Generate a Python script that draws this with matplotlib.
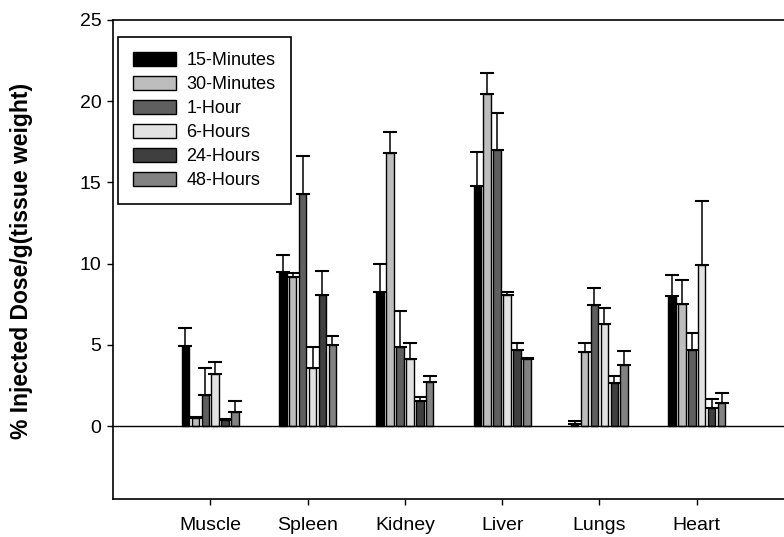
import numpy as np
import matplotlib
matplotlib.use("Agg")
import matplotlib.pyplot as plt

plt.rcParams['font.family'] = ['Liberation Sans', 'DejaVu Sans']

organs = ["Muscle", "Spleen", "Kidney", "Liver", "Lungs", "Heart"]
series = ["15-Minutes", "30-Minutes", "1-Hour", "6-Hours", "24-Hours", "48-Hours"]

# mean values (% ID/g)
min15 = [4.94, 9.50, 8.23, 14.78, 0.16, 8.02]
min30 = [0.51, 9.20, 16.83, 20.46, 4.58, 7.51]
hr1 = [1.95, 14.29, 4.85, 17.00, 7.45, 4.72]
hr6 = [3.20, 3.61, 4.15, 8.05, 6.32, 9.91]
hr24 = [0.37, 8.07, 1.56, 4.68, 2.67, 1.15]
hr48 = [0.90, 4.99, 2.71, 4.15, 3.76, 1.40]

# upper error bars
err15 = [1.12, 1.03, 1.75, 2.09, 0.17, 1.30]
err30 = [0.05, 0.20, 1.25, 1.26, 0.57, 1.48]
err1 = [1.65, 2.31, 2.25, 2.30, 1.05, 0.99]
err6 = [0.76, 1.24, 0.94, 0.20, 0.93, 3.96]
err24 = [0.05, 1.49, 0.24, 0.47, 0.43, 0.55]
err48 = [0.68, 0.55, 0.41, 0.05, 0.88, 0.65]

values = [min15, min30, hr1, hr6, hr24, hr48]
errors = [err15, err30, err1, err6, err24, err48]
colors = ["#000000", "#bdbdbd", "#5f5f5f", "#e2e2e2", "#3f3f3f", "#828282"]

fig = plt.figure(figsize=(7.84, 5.37), dpi=100)
ax = fig.add_axes([113/784, 1 - 498.5/537, (794 - 113)/784, (498.5 - 20)/537])

x = np.arange(len(organs))
slot = 0.102
width = 0.078

for i, (vals, errs) in enumerate(zip(values, errors)):
    pos = x + (i - 2.5) * slot
    ax.bar(pos, vals, width, color=colors[i], edgecolor="black", linewidth=1.0,
           label=series[i], zorder=3)
    ax.errorbar(pos, vals, yerr=[np.zeros(len(errs)), errs], fmt="none",
                ecolor="black", elinewidth=1.1, capsize=5.3, capthick=1.5, zorder=2)

ax.axhline(0, color="black", linewidth=1.0, zorder=4)

ax.set_xlim(-1.0, 6.0)
ax.set_ylim(-4.45, 25)
ax.set_yticks([0, 5, 10, 15, 20, 25])
ax.set_xticks(x)
ax.set_xticklabels(organs)
ax.tick_params(axis="y", direction="out", length=4.3, width=1.0, labelsize=14, pad=4)
ax.tick_params(axis="x", direction="out", length=4, width=1.0, labelsize=14, pad=9)
for s in ax.spines.values():
    s.set_linewidth(1.2)

fig.text(22/784, 1 - 261/537, "% Injected Dose/g(tissue weight)", rotation=90,
         fontsize=16.5, fontweight="bold", ha="center", va="center")

leg = ax.legend(loc="upper left", bbox_to_anchor=(118/784, 1 - 37/537),
                bbox_transform=fig.transFigure, fontsize=13, frameon=True,
                fancybox=False, edgecolor="black", framealpha=1,
                handlelength=2.35, handleheight=0.78, handletextpad=0.6,
                labelspacing=0.38, borderpad=0.85, borderaxespad=0)
leg.get_frame().set_linewidth(1.2)

fig.savefig("out.png", dpi=100)
